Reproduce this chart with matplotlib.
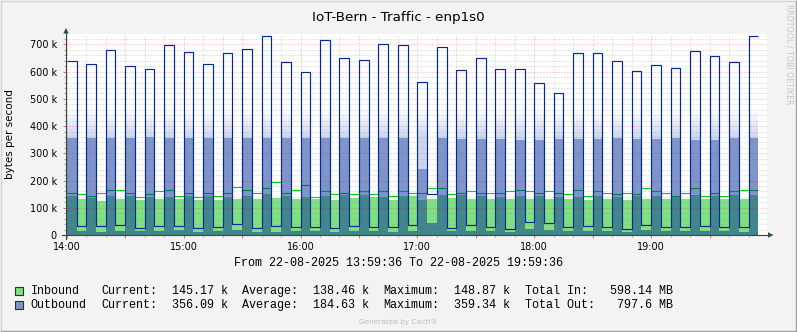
import numpy as np
import matplotlib
matplotlib.use("Agg")
import matplotlib.pyplot as plt
from matplotlib.patches import Rectangle, Polygon
from matplotlib.ticker import FixedLocator, FuncFormatter

# Five-minute samples starting at 14:00, in k (1000 bytes per second)
inbound = [
    143, 132, 137, 125, 143, 132, 143, 128, 139, 132,
    139, 132, 143, 128, 145, 128, 139, 132, 143, 132,
    148.9, 137, 143, 132, 139, 134, 143, 128, 146, 137,
    146, 139, 139, 128, 143, 143, 128, 132, 146, 137,
    146, 132, 143, 132, 139, 132, 143, 132, 143, 132,
    139, 132, 139, 128, 143, 132, 139, 128, 143, 132,
    143, 132, 139, 132, 146, 132, 143, 132, 146, 132,
    145.2,
]
outbound = [
    356, 15, 356, 12, 356, 15, 356, 15, 359.3, 15,
    356, 17, 356, 12, 356, 15, 356, 17, 356, 12,
    356, 12, 356, 15, 356, 15, 356, 12, 356, 15,
    356, 15, 356, 12, 356, 15, 242, 44, 356, 15,
    353, 15, 353, 15, 353, 12, 349, 22, 348, 20,
    353, 15, 353, 15, 353, 15, 356, 12, 353, 17,
    353, 15, 355, 15, 350, 15, 350, 15, 355, 12,
    356.1,
]
inbound_peak = [
    156, 149, 145, 156, 167, 164, 156, 138, 149, 160,
    167, 143, 156, 138, 156, 145, 156, 175, 167, 153,
    171, 194, 156, 164, 182, 138, 160, 149, 156, 149,
    160, 149, 160, 145, 160, 156, 156, 171, 171, 149,
    153, 160, 156, 156, 153, 160, 164, 160, 156, 160,
    153, 149, 164, 145, 160, 156, 149, 153, 149, 171,
    160, 156, 143, 153, 171, 145, 156, 145, 160, 164,
    167,
]
outbound_peak = [
    640, 32, 629, 32, 680, 37, 621, 24, 610, 32,
    698, 32, 673, 24, 629, 28, 669, 40, 684, 24,
    731, 32, 636, 28, 600, 28, 717, 24, 651, 32,
    643, 28, 702, 28, 698, 35, 563, 150, 691, 24,
    607, 35, 651, 28, 610, 21, 610, 46, 559, 43,
    523, 28, 669, 32, 669, 28, 640, 21, 603, 35,
    625, 28, 614, 28, 676, 32, 658, 28, 636, 28,
    729,
]

hour_labels = ["14:00", "15:00", "16:00", "17:00", "18:00", "19:00"]
y_ticks = [0, 100, 200, 300, 400, 500, 600, 700]

legend_rows = [
    ("Inbound", "145.17 k", "138.46 k", "148.87 k", "Total In:", "598.14 MB"),
    ("Outbound", "356.09 k", "184.63 k", "359.34 k", "Total Out:", "797.6 MB"),
]

title = "IoT-Bern - Traffic - enp1s0"
period = "From 22-08-2025 13:59:36 To 22-08-2025 19:59:36"

GREEN_FILL = "#7FE17F"
GREEN_LINE = "#00CF00"
BLUE = "#002A97"
BLUE_LEGEND = "#8094CB"
AXIS_COL = "#2C4D43"

W, H = 797, 332
fig = plt.figure(figsize=(W / 100, H / 100), dpi=100, facecolor="#F3F3F3")

# plot canvas in pixel units
px_l, px_r, px_t, px_b = 66, 767.2, 33.5, 235
ax = fig.add_axes([px_l / W, 1 - px_b / H, (px_r - px_l) / W, (px_b - px_t) / H])
ax.set_facecolor("white")
for s in ax.spines.values():
    s.set_visible(False)

n = len(inbound)
edges = np.arange(n + 1) * 5.0
inb = np.array(inbound, float)
outb = np.array(outbound, float)
inp = np.array(inbound_peak, float)
outp = np.array(outbound_peak, float)

x_lo, x_hi = -0.4, 359.6
y_hi = 740

ax.stairs(inb, edges, fill=True, color=GREEN_FILL, lw=0, zorder=1)

# faint fading tint inside the outbound peak envelope, above the average area,
# built from thin horizontal bands whose opacity falls off with height
floor = np.maximum(outb, 180.0)
band_edges = np.linspace(180, 470, 59)
for b0, b1 in zip(band_edges[:-1], band_edges[1:]):
    mid = 0.5 * (b0 + b1)
    alpha = 0.2 * np.clip((460 - mid) / (460 - 356), 0, 1)
    if alpha <= 0:
        continue
    lo = np.clip(floor, b0, b1)
    hi = np.maximum(np.clip(outp, b0, b1), lo)
    ax.stairs(hi, edges, baseline=lo, fill=True, color=BLUE, alpha=alpha,
              lw=0, antialiased=False, zorder=1.1)

ax.stairs(inp, edges, baseline=None, color=GREEN_LINE, lw=0.8, zorder=1.2)
ax.stairs(outb, edges, fill=True, color=BLUE, alpha=0.5, lw=0, zorder=1.3)
ax.stairs(outp, edges, baseline=None, color=BLUE, lw=0.85, zorder=3)

ax.set_xlim(x_lo, x_hi)
ax.set_ylim(0, y_hi)

ax.xaxis.set_major_locator(FixedLocator(np.arange(0, 360, 30)))
ax.xaxis.set_minor_locator(FixedLocator(np.arange(0, 360, 10)))
ax.xaxis.set_major_formatter(FuncFormatter(
    lambda v, p: hour_labels[int(round(v)) // 60] if int(round(v)) % 60 == 0 else ""))
ax.yaxis.set_major_locator(FixedLocator(y_ticks))
ax.yaxis.set_minor_locator(FixedLocator(np.arange(0, 740, 20)))
ax.yaxis.set_major_formatter(FuncFormatter(lambda v, p: "0" if v == 0 else f"{int(v)} k"))

ax.set_axisbelow(False)
ax.grid(which="minor", color="#8F8F8F", alpha=0.45, lw=0.72, ls=(0, (1, 2)))
ax.grid(which="major", color="#F60000", alpha=0.35, lw=0.72, ls=(0, (1, 2)))

ax.tick_params(axis="both", which="major", length=2.2, width=0.72, color="#E07070",
               labelsize=7, labelcolor="black")
ax.tick_params(axis="both", which="minor", length=1.5, width=0.72, color="#A8A8A8")
ax.tick_params(axis="x", which="major", pad=2.5)
ax.tick_params(axis="y", which="major", pad=4.3)

# overlay in pixel coordinates for frame, axes arrows and text
ov = fig.add_axes([0, 0, 1, 1], zorder=5)
ov.set_xlim(0, W)
ov.set_ylim(H, 0)
ov.axis("off")
ov.patch.set_alpha(0)

ov.plot([0.5, W - 0.5], [0.5, 0.5], color="#D4D4D4", lw=1)
ov.plot([0.5, 0.5], [0.5, H - 0.5], color="#D4D4D4", lw=1)
ov.plot([0.5, W - 0.5], [H - 0.7, H - 0.7], color="#A0A0A0", lw=1)
ov.plot([W - 0.7, W - 0.7], [0.5, H - 0.5], color="#A0A0A0", lw=1)

ov.plot([62, 768], [235, 235], color=AXIS_COL, lw=0.8)
ov.add_patch(Polygon([[768, 232.3], [773.5, 235], [768, 237.7]], closed=True,
                     color=AXIS_COL, lw=0))
ov.plot([66, 66], [239, 33], color=AXIS_COL, lw=0.8)
ov.add_patch(Polygon([[63.3, 33.5], [66, 28], [68.7, 33.5]], closed=True,
                     color=AXIS_COL, lw=0))

ov.text(398.5, 18, title, ha="center", va="center", fontsize=9.7, color="black")
ov.text(10, 134, "bytes per second", rotation=90, ha="center", va="center",
        fontsize=7.5, color="black")
ov.text(789, 4, "RRDTOOL / TOBI OETIKER", rotation=270, ha="center", va="top",
        fontsize=5.7, color="#C4C4C4")
ov.text(398.5, 263, period, ha="center", va="center", family="Liberation Mono",
        fontsize=8.45, color="black")

# legend: monospaced columns placed on a fixed character grid
col_w = 7.06
text_x0 = 30.7
row_y = [291, 305]
swatches = [GREEN_FILL, BLUE_LEGEND]
for (name, cur, avg, mx, tot_lbl, tot), y, col in zip(legend_rows, row_y, swatches):
    ov.add_patch(Rectangle((15.5, y - 4), 8, 8, facecolor=col, edgecolor="#1E3A30", lw=0.8))
    fields = [(0, name), (10, "Current:"), (20, cur), (30, "Average:"), (40, avg),
              (50, "Maximum:"), (60, mx), (70, tot_lbl), (91 - len(tot), tot)]
    for idx, txt in fields:
        ov.text(text_x0 + idx * col_w, y, txt, ha="left", va="center",
                family="Liberation Mono", fontsize=8.45, color="black")

ov.text(398.5, 322, "Generated by Cacti\u00ae", ha="center", va="center",
        fontsize=5.3, color="#BDBDBD")

fig.savefig("out.png", dpi=100, facecolor=fig.get_facecolor())
